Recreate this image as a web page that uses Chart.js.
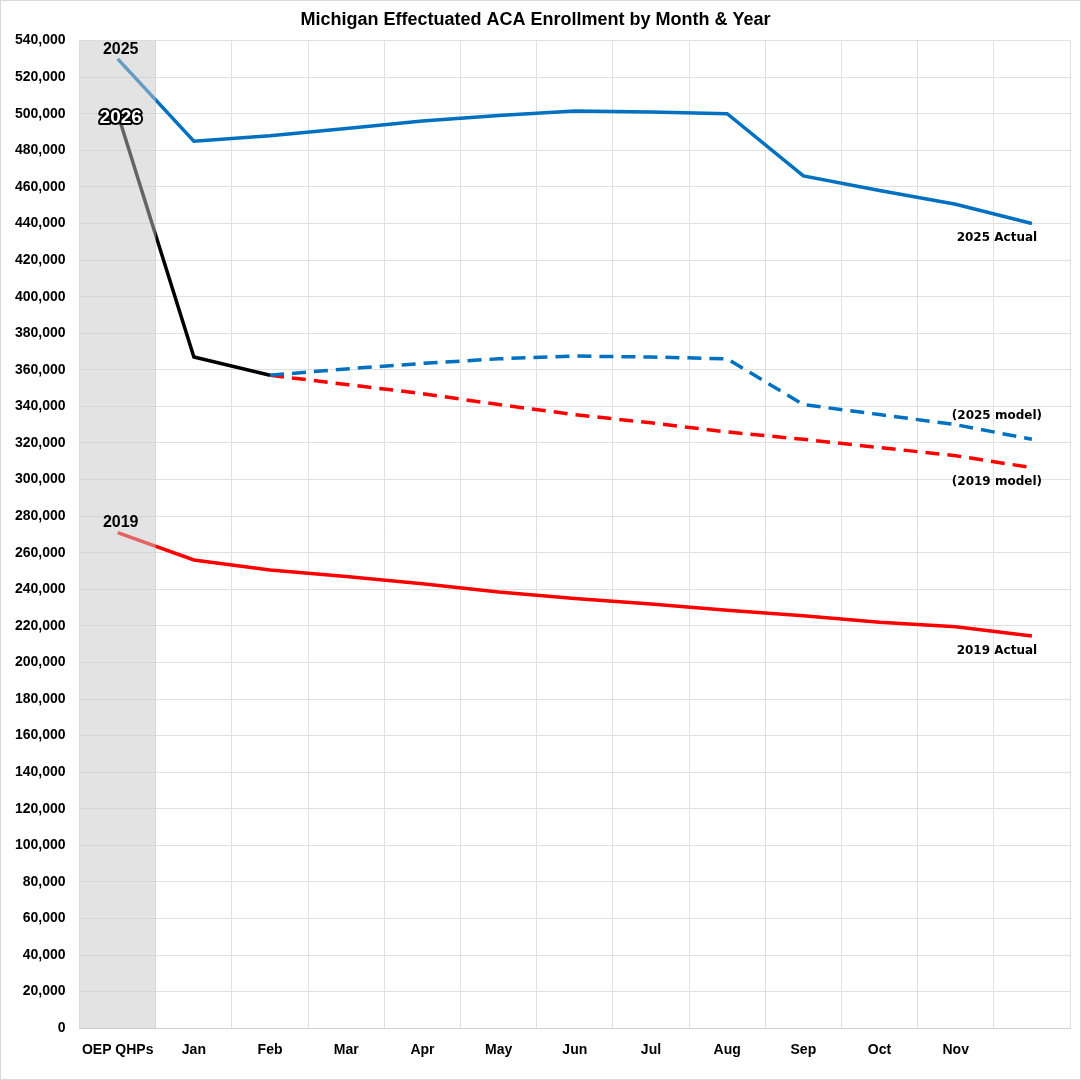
<!DOCTYPE html>
<html>
<head>
<meta charset="utf-8">
<script src="https://cdn.jsdelivr.net/npm/chart.js@4"></script>
<style>
  body { margin: 0; background: #fff; }
  #wrap { position: absolute; left: 0; top: 0; width: 1081px; height: 1080px; box-sizing: border-box; border: 1px solid #d9d9d9; }
  canvas { position: absolute; left: 0; top: 0; }
</style>
</head>
<body>
<div id="wrap"><canvas id="line" width="1079" height="1078"></canvas></div>
<script>
// categories (Dec is unlabeled in the picture)
var months = ['OEP QHPs', 'Jan', 'Feb', 'Mar', 'Apr', 'May', 'Jun', 'Jul', 'Aug', 'Sep', 'Oct', 'Nov', ''];

var actual2025 = [530000, 485000, 488000, 492000, 496000, 499000, 501500, 501000, 500000, 466000, 458000, 450500, 440000];
var actual2026 = [500000, 367000, 357000, null, null, null, null, null, null, null, null, null, null];
var model2025 = [null, null, 357000, 360500, 363500, 366000, 367500, 367000, 366000, 341000, 335500, 330000, 322000];
var model2019 = [null, null, 357000, 352000, 347000, 341000, 335500, 331000, 326000, 322000, 317500, 313000, 306500];
var actual2019 = [271000, 256000, 250500, 247000, 243000, 238500, 235000, 232000, 228500, 225500, 222000, 219500, 214500];

var blue = '#0070c0', red = '#ff0000';
var font = 'Arial, "Liberation Sans", sans-serif';

// grey OEP band drawn over the lines, then the text labels
var overlay = {
  id: 'overlay',
  afterDatasetsDraw: function (chart) {
    var ctx = chart.ctx, x = chart.scales.x, y = chart.scales.y, a = chart.chartArea;
    var w = x.getPixelForValue(1) - x.getPixelForValue(0);
    var x0 = x.getPixelForValue(0) + 3, xl = x.getPixelForValue(12) - 35;
    ctx.save();
    ctx.fillStyle = 'rgba(200,200,200,0.5)';
    ctx.fillRect(a.left, a.top, w, a.bottom - a.top);
    ctx.textAlign = 'center';
    ctx.textBaseline = 'middle';
    ctx.font = 'bold 16px ' + font;
    ctx.fillStyle = '#000';
    ctx.fillText('2025', x0, y.getPixelForValue(actual2025[0]) - 9);
    ctx.fillText('2019', x0, y.getPixelForValue(actual2019[0]) - 10);
    ctx.font = 'bold 19px ' + font;
    ctx.lineWidth = 4;
    ctx.strokeStyle = '#000';
    ctx.lineJoin = 'round';
    var y26 = y.getPixelForValue(actual2026[0]) + 4;
    ctx.strokeText('2026', x0, y26);
    ctx.fillStyle = '#fff';
    ctx.fillText('2026', x0, y26);
    ctx.font = 'bold 12px "DejaVu Sans", sans-serif';
    ctx.fillStyle = '#000';
    ctx.fillText('2025 Actual', xl, y.getPixelForValue(actual2025[12]) + 14);
    ctx.fillText('(2025 model)', xl, y.getPixelForValue(model2025[12]) - 23);
    ctx.fillText('(2019 model)', xl, y.getPixelForValue(model2019[12]) + 14);
    ctx.fillText('2019 Actual', xl, y.getPixelForValue(actual2019[12]) + 15);
    ctx.restore();
  }
};

function ds(label, data, color, dash) {
  return { label: label, data: data, borderColor: color, backgroundColor: color, borderWidth: 3.5,
           borderDash: dash || [], pointRadius: 0, fill: false, tension: 0, spanGaps: false };
}

new Chart(document.getElementById('line'), {
  type: 'line',
  data: {
    labels: months,
    datasets: [
      ds('2025 Actual', actual2025, blue),
      ds('2025 model', model2025, blue, [14, 8]),
      ds('2019 model', model2019, red, [14, 8]),
      ds('2019 Actual', actual2019, red),
      ds('2026', actual2026, '#000')
    ]
  },
  options: {
    responsive: false,
    animation: false,
    layout: { padding: { right: 10, top: 0, bottom: 6, left: 0 } },
    plugins: {
      legend: { display: false },
      tooltip: { enabled: false },
      title: { display: true, text: 'Michigan Effectuated ACA Enrollment by Month & Year',
               color: '#000', font: { family: font, size: 18, weight: 'bold' },
               padding: { top: 8, bottom: 10 } }
    },
    scales: {
      x: {
        offset: true,
        grid: { color: '#e0e0e0', offset: true, drawTicks: false },
        border: { color: '#d0d0d0' },
        ticks: { color: '#000', padding: 14, maxRotation: 0, autoSkip: false,
                 font: { family: font, size: 14, weight: 'bold' } }
      },
      y: {
        min: 0, max: 540000,
        grid: { color: '#e0e0e0', drawTicks: false },
        border: { display: false },
        ticks: { stepSize: 20000, color: '#000', padding: 14,
                 font: { family: font, size: 14, weight: 'bold' },
                 callback: function (v) { return v.toLocaleString('en-US'); } }
      }
    }
  },
  plugins: [overlay]
});
</script>
</body>
</html>
